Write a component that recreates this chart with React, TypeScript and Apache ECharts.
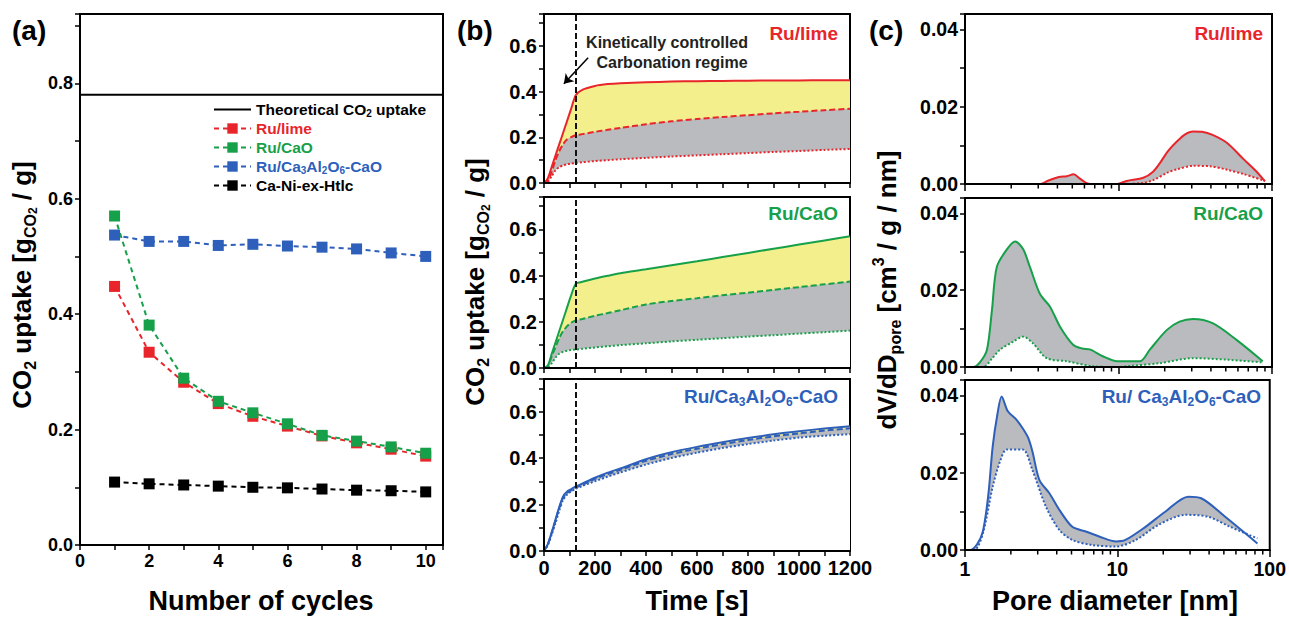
import React, { useEffect, useRef } from "react";
import * as echarts from "echarts";

// ---------------- data ----------------
// (a) cycling
const cycles = [1, 2, 3, 4, 5, 6, 7, 8, 9, 10];
const ruLimeUptake = [0.448, 0.334, 0.282, 0.245, 0.223, 0.206, 0.189, 0.177, 0.166, 0.154];
const ruCaOUptake = [0.57, 0.381, 0.289, 0.249, 0.229, 0.21, 0.19, 0.18, 0.17, 0.159];
const ruCaAlUptake = [0.537, 0.526, 0.526, 0.519, 0.521, 0.518, 0.516, 0.513, 0.506, 0.5];
const caNiUptake = [0.109, 0.106, 0.104, 0.102, 0.1, 0.099, 0.097, 0.095, 0.094, 0.092];
const theoreticalUptake = 0.78;

// (b) uptake vs time
const timeS = [0, 15, 30, 45, 60, 75, 90, 105, 125, 150, 200, 250, 300, 400, 500, 600, 700, 800, 900, 1000, 1100, 1200];
const limeSolid = [0, 0.02, 0.07, 0.12, 0.17, 0.22, 0.27, 0.32, 0.385, 0.408, 0.425, 0.433, 0.437, 0.441, 0.444, 0.446, 0.447, 0.448, 0.449, 0.449, 0.45, 0.45];
const limeDashed = [0, 0.01, 0.05, 0.1, 0.14, 0.17, 0.19, 0.2, 0.209, 0.214, 0.224, 0.233, 0.241, 0.257, 0.27, 0.28, 0.289, 0.297, 0.305, 0.312, 0.319, 0.325];
const limeDotted = [0, 0.005, 0.03, 0.055, 0.07, 0.077, 0.082, 0.085, 0.088, 0.091, 0.096, 0.1, 0.104, 0.11, 0.116, 0.121, 0.126, 0.131, 0.136, 0.14, 0.145, 0.149];
const caoSolid = [0, 0.01, 0.06, 0.11, 0.16, 0.21, 0.26, 0.31, 0.365, 0.373, 0.387, 0.399, 0.41, 0.427, 0.445, 0.462, 0.48, 0.498, 0.516, 0.534, 0.552, 0.57];
const caoDashed = [0, 0.01, 0.05, 0.09, 0.13, 0.16, 0.18, 0.195, 0.206, 0.212, 0.226, 0.238, 0.25, 0.275, 0.29, 0.302, 0.315, 0.326, 0.338, 0.35, 0.362, 0.374];
const caoDotted = [0, 0.005, 0.02, 0.045, 0.062, 0.07, 0.075, 0.078, 0.08, 0.083, 0.089, 0.094, 0.099, 0.107, 0.115, 0.122, 0.129, 0.136, 0.142, 0.149, 0.155, 0.162];
const alSolid = [0, 0.03, 0.08, 0.135, 0.19, 0.235, 0.255, 0.265, 0.278, 0.29, 0.315, 0.337, 0.355, 0.395, 0.425, 0.448, 0.468, 0.486, 0.502, 0.515, 0.527, 0.537];
const alDashed = [0, 0.028, 0.077, 0.13, 0.185, 0.23, 0.25, 0.26, 0.273, 0.285, 0.31, 0.331, 0.349, 0.388, 0.417, 0.44, 0.46, 0.478, 0.493, 0.506, 0.518, 0.528];
const alDotted = [0, 0.025, 0.07, 0.12, 0.175, 0.22, 0.242, 0.255, 0.268, 0.28, 0.3, 0.32, 0.338, 0.372, 0.4, 0.423, 0.443, 0.46, 0.475, 0.488, 0.496, 0.503];
const kineticLimitS = 125;

// (c) pore size distribution [diameter nm, dV/dD]
const limePoreSolid = [[1, 0], [3.1, 0], [3.5, 0.0009], [4.1, 0.0018], [4.6, 0.002], [5.1, 0.0025], [5.6, 0.0014], [6.2, 0.0002], [6.6, 0], [9.8, 0], [11.3, 0.0008], [14.5, 0.0016], [16.8, 0.0032], [18.6, 0.0054], [21, 0.0085], [24, 0.011], [27, 0.0128], [30.6, 0.0136], [35, 0.0135], [41, 0.0127], [51, 0.0106], [65, 0.0065], [78, 0.0035], [90, 0.0007]];
const limePoreDotted = [[1, 0], [11.3, 0], [14.5, 0.0003], [16.8, 0.001], [21, 0.003], [24, 0.0038], [30.6, 0.0047], [39.5, 0.0046], [51, 0.0037], [65, 0.0026], [90, 0.0008]];
const caoPoreSolid = [[1, 0], [1.13, 0], [1.25, 0.0012], [1.39, 0.0045], [1.5, 0.015], [1.61, 0.026], [1.88, 0.0307], [2.12, 0.0327], [2.39, 0.0307], [2.65, 0.026], [3.08, 0.019], [3.58, 0.0157], [4.16, 0.0105], [5.06, 0.0058], [5.8, 0.0048], [6.5, 0.0046], [7.9, 0.0028], [9.8, 0.0015], [13.8, 0.0015], [16, 0.0045], [20.6, 0.0096], [25, 0.0118], [30.6, 0.0125], [41, 0.0114], [59, 0.007], [87, 0.0015]];
const caoPoreDotted = [[1, 0], [1.31, 0], [1.5, 0.0022], [1.69, 0.0045], [2.06, 0.0066], [2.39, 0.0079], [2.77, 0.0062], [3.4, 0.0023], [4.6, 0.0015], [6.8, 0.0002], [9.8, 0], [12, 0.0003], [18.6, 0.001], [30.6, 0.0023], [51, 0.0019], [87, 0.0012]];
const alPoreSolid = [[1, 0], [1.08, 0], [1.2, 0.0015], [1.31, 0.0048], [1.42, 0.014], [1.52, 0.0268], [1.63, 0.035], [1.74, 0.0397], [1.91, 0.0359], [2.18, 0.0337], [2.39, 0.0315], [2.6, 0.029], [2.77, 0.0255], [3.08, 0.0181], [3.58, 0.0147], [4.16, 0.0104], [5.06, 0.006], [6.2, 0.0048], [7.6, 0.0035], [9.8, 0.0022], [11.3, 0.0026], [15.3, 0.006], [20.6, 0.0099], [29.2, 0.0138], [35.5, 0.0134], [51, 0.0086], [83, 0.0017]];
const alPoreDotted = [[1, 0], [1.15, 0], [1.31, 0.0043], [1.52, 0.0164], [1.7, 0.023], [1.88, 0.026], [2.39, 0.026], [2.77, 0.0207], [3.4, 0.0112], [4.16, 0.0052], [5.06, 0.0026], [6.8, 0.0013], [9.8, 0.0009], [13.2, 0.0026], [18.6, 0.0065], [28, 0.0091], [39.5, 0.0086], [55, 0.006], [83, 0.003]];
const poreMinorTicks = [2, 3, 4, 5, 6, 7, 8, 9, 20, 30, 40, 50, 60, 70, 80, 90];

// ---------------- styles ----------------
const F = "'Liberation Sans', Arial, Helvetica, sans-serif";
const RED = "#e8252b";
const GREEN = "#17a04a";
const BLUE = "#2d5fbb";
const YELLOW = "#f3ef8c";
const GRAY = "#b9bbbe";

const axisLine = { show: true, onZero: false, lineStyle: { color: "#000", width: 2 } };
const axisTick = { show: true, inside: false, length: 5, lineStyle: { color: "#000", width: 1.5 } };

function labelFmt(interval: number, every: number, dec: number) {
  return (v: number) => {
    const k = Math.round(v / interval);
    if (Math.abs(v - k * interval) > interval * 1e-3) return "";
    if (k % every !== 0) return "";
    return (k * interval).toFixed(dec);
  };
}

function valAxis(gridIndex: number, min: number, max: number, interval: number, every: number, dec: number, showLabel: boolean, fs: number) {
  return {
    type: "value",
    gridIndex,
    min,
    max,
    interval,
    z: 5,
    axisLine,
    axisTick,
    splitLine: { show: false },
    axisLabel: {
      show: showLabel,
      color: "#000",
      fontSize: fs,
      fontWeight: "bold",
      fontFamily: F,
      margin: 7,
      formatter: labelFmt(interval, every, dec),
    },
  };
}

function logAxis(gridIndex: number, showLabel: boolean) {
  return {
    type: "log",
    logBase: 10,
    gridIndex,
    min: 1,
    max: 100,
    z: 5,
    axisLine,
    axisTick: { ...axisTick, length: 7 },
    splitLine: { show: false },
    axisLabel: {
      show: showLabel,
      color: "#000",
      fontSize: 19.5,
      fontWeight: "bold",
      fontFamily: F,
      margin: 9,
      formatter: (v: number) => String(Math.round(v)),
    },
  };
}

function richSet(fs: number, fill: string) {
  const s = Math.round(fs * 0.62);
  const ss = Math.round(fs * 0.45);
  const base = { fill, fontWeight: "bold", fontFamily: F };
  return {
    s: { ...base, fontSize: s, lineHeight: s, verticalAlign: "bottom" },
    ss: { ...base, fontSize: ss, lineHeight: ss, verticalAlign: "bottom" },
    u: { ...base, fontSize: s, lineHeight: s, verticalAlign: "top" },
  };
}

function gtext(x: number, y: number, text: string, fs: number, fill: string, align = "left", rotation = 0) {
  return {
    type: "text",
    x,
    y,
    rotation,
    silent: true,
    z: 20,
    style: {
      text,
      fill,
      fontSize: fs,
      fontWeight: "bold",
      fontFamily: F,
      align,
      verticalAlign: "middle",
      lineHeight: Math.round(fs * 1.25),
      rich: richSet(fs, fill),
    },
  };
}

function timeSeries(idx: number, solid: number[], dashed: number[], dotted: number[], color: string, extra: any = {}) {
  const mk = (arr: number[]) => timeS.map((t, i) => [t, arr[i]]);
  const common = { type: "line", xAxisIndex: idx, yAxisIndex: idx, symbol: "none", smooth: 0.25, silent: true };
  return [
    { ...common, data: mk(solid), lineStyle: { color, width: 2 }, areaStyle: { color: YELLOW, opacity: 1 }, ...extra },
    { ...common, data: mk(dashed), lineStyle: { color, width: 2, type: [6, 3] }, areaStyle: { color: GRAY, opacity: 1 } },
    {
      ...common,
      data: mk(dotted),
      lineStyle: { color, width: 2, type: [2, 2] },
      areaStyle: { color: "#fff", opacity: 1 },
      markLine: {
        silent: true,
        symbol: ["none", "none"],
        label: { show: false },
        lineStyle: { color: "#111", type: [6, 3], width: 2 },
        data: [{ xAxis: kineticLimitS }],
      },
    },
  ];
}

function poreSeries(idx: number, solid: number[][], dotted: number[][], color: string) {
  const common = { type: "line", xAxisIndex: idx, yAxisIndex: idx, symbol: "none", smooth: 0.3, silent: true };
  return [
    { ...common, data: solid, lineStyle: { color, width: 2 }, areaStyle: { color: GRAY, opacity: 1 } },
    { ...common, data: dotted, lineStyle: { color, width: 2, type: [2, 2] }, areaStyle: { color: "#fff", opacity: 1 } },
    {
      type: "custom",
      xAxisIndex: idx,
      yAxisIndex: idx,
      silent: true,
      z: 6,
      data: poreMinorTicks.map((v) => [v, 0]),
      encode: { x: 0, y: 1 },
      renderItem: (_p: any, api: any) => {
        const pt = api.coord([api.value(0), 0]);
        return {
          type: "line",
          shape: { x1: pt[0], y1: pt[1], x2: pt[0], y2: pt[1] + 4.5 },
          style: { stroke: "#000", lineWidth: 1.5 },
        };
      },
    },
  ];
}

function buildOption() {
  const gridBase = { show: true, borderColor: "#000", borderWidth: 2, backgroundColor: "transparent" };
  const grids = [
    { ...gridBase, left: 80, top: 14, width: 363, height: 531 },
    { ...gridBase, left: 544, top: 14, width: 306, height: 169 },
    { ...gridBase, left: 544, top: 197, width: 306, height: 171 },
    { ...gridBase, left: 544, top: 379, width: 306, height: 172 },
    { ...gridBase, left: 965, top: 14, width: 307, height: 170 },
    { ...gridBase, left: 965, top: 198, width: 307, height: 169 },
    { ...gridBase, left: 965, top: 380, width: 307, height: 170 },
  ];

  const xAxis = [
    valAxis(0, 0, 10.5, 1, 2, 0, true, 18),
    valAxis(1, 0, 1200, 100, 2, 0, false, 20),
    valAxis(2, 0, 1200, 100, 2, 0, false, 20),
    valAxis(3, 0, 1200, 100, 2, 0, true, 20),
    logAxis(4, false),
    logAxis(5, false),
    logAxis(6, true),
  ];
  const yAxis = [
    valAxis(0, 0, 0.92, 0.1, 2, 1, true, 18),
    valAxis(1, 0, 0.74, 0.1, 2, 1, true, 20),
    valAxis(2, 0, 0.74, 0.1, 2, 1, true, 20),
    valAxis(3, 0, 0.74, 0.1, 2, 1, true, 20),
    valAxis(4, 0, 0.044, 0.01, 2, 2, true, 19.5),
    valAxis(5, 0, 0.044, 0.01, 2, 2, true, 19.5),
    valAxis(6, 0, 0.044, 0.01, 2, 2, true, 19.5),
  ];

  const cyc = (arr: number[]) => cycles.map((c, i) => [c, arr[i]]);
  const cycSeries = (name: string, arr: number[], color: string) => ({
    name,
    type: "line",
    xAxisIndex: 0,
    yAxisIndex: 0,
    data: cyc(arr),
    symbol: "rect",
    symbolSize: 11,
    silent: true,
    lineStyle: { color, width: 2, type: [5, 4] },
    itemStyle: { color },
  });

  const series: any[] = [
    {
      name: "Theoretical CO2 uptake",
      type: "line",
      xAxisIndex: 0,
      yAxisIndex: 0,
      data: [[0, theoreticalUptake], [10.5, theoreticalUptake]],
      symbol: "none",
      silent: true,
      lineStyle: { color: "#000", width: 2 },
      itemStyle: { color: "#000" },
    },
    cycSeries("Ru/lime", ruLimeUptake, RED),
    cycSeries("Ru/CaO", ruCaOUptake, GREEN),
    cycSeries("Ru/Ca3Al2O6-CaO", ruCaAlUptake, BLUE),
    cycSeries("Ca-Ni-ex-Htlc", caNiUptake, "#000"),
    ...timeSeries(1, limeSolid, limeDashed, limeDotted, RED, {
      markLine: {
        silent: true,
        symbol: ["none", "arrow"],
        symbolSize: 9,
        label: { show: false },
        lineStyle: { color: "#000", type: "solid", width: 1.5 },
        data: [[{ coord: [173, 0.548] }, { coord: [78, 0.435] }]],
      },
    }),
    ...timeSeries(2, caoSolid, caoDashed, caoDotted, GREEN),
    ...timeSeries(3, alSolid, alDashed, alDotted, BLUE),
    ...poreSeries(4, limePoreSolid, limePoreDotted, RED),
    ...poreSeries(5, caoPoreSolid, caoPoreDotted, GREEN),
    ...poreSeries(6, alPoreSolid, alPoreDotted, BLUE),
  ];

  const legendRichBase = { fontWeight: "bold", fontFamily: F, fontSize: 10, lineHeight: 10, verticalAlign: "bottom" };
  const legend = {
    show: true,
    orient: "vertical",
    left: 213,
    top: 101,
    padding: 0,
    itemWidth: 37,
    itemHeight: 13,
    itemGap: 2,
    selectedMode: false,
    textStyle: {
      fontSize: 15.5,
      fontWeight: "bold",
      fontFamily: F,
      color: "#000",
      lineHeight: 17,
      rich: {
        k: { ...legendRichBase, color: "#000" },
        b: { ...legendRichBase, color: BLUE },
      },
    },
    formatter: (name: string) => {
      if (name === "Theoretical CO2 uptake") return "Theoretical CO{k|2} uptake";
      if (name === "Ru/Ca3Al2O6-CaO") return "Ru/Ca{b|3}Al{b|2}O{b|6}-CaO";
      return name;
    },
    data: [
      { name: "Theoretical CO2 uptake", textStyle: { color: "#000" }, itemStyle: { opacity: 0 } },
      { name: "Ru/lime", textStyle: { color: RED } },
      { name: "Ru/CaO", textStyle: { color: GREEN } },
      { name: "Ru/Ca3Al2O6-CaO", textStyle: { color: BLUE } },
      { name: "Ca-Ni-ex-Htlc", textStyle: { color: "#000" } },
    ],
  };

  const graphic = [
    gtext(12, 30, "(a)", 28, "#000"),
    gtext(457, 30, "(b)", 28, "#000"),
    gtext(869, 30, "(c)", 28, "#000"),
    gtext(838, 33, "Ru/lime", 19, RED, "right"),
    gtext(838, 213, "Ru/CaO", 19, GREEN, "right"),
    gtext(838, 396, "Ru/Ca{s|3}Al{s|2}O{s|6}-CaO", 19, BLUE, "right"),
    gtext(1263, 33, "Ru/lime", 19, RED, "right"),
    gtext(1263, 213, "Ru/CaO", 19, GREEN, "right"),
    gtext(1261, 396, "Ru/ Ca{s|3}Al{s|2}O{s|6}-CaO", 19, BLUE, "right"),
    gtext(667, 42, "Kinetically controlled", 16, "#222", "center"),
    gtext(672, 62, "Carbonation regime", 16, "#222", "center"),
    gtext(261, 601, "Number of cycles", 27, "#000", "center"),
    gtext(697, 601, "Time [s]", 27, "#000", "center"),
    gtext(1115, 601, "Pore diameter [nm]", 27, "#000", "center"),
    gtext(22, 285, "CO{s|2} uptake [g{s|CO}{ss|2} / g]", 26, "#000", "center", Math.PI / 2),
    gtext(475, 282, "CO{s|2} uptake [g{s|CO}{ss|2} / g]", 26, "#000", "center", Math.PI / 2),
    gtext(887, 290, "dV/dD{s|pore} [cm{u|3} / g / nm]", 26, "#000", "center", Math.PI / 2),
  ];

  return {
    animation: false,
    backgroundColor: "#fff",
    grid: grids,
    xAxis,
    yAxis,
    series,
    legend,
    graphic,
  };
}

export default function App() {
  const ref = useRef<HTMLDivElement>(null);
  useEffect(() => {
    if (!ref.current) return;
    const chart = echarts.init(ref.current, null, { renderer: "svg" });
    chart.setOption(buildOption() as any);
    return () => chart.dispose();
  }, []);
  return (
    <div
      ref={ref}
      style={{ position: "fixed", left: 0, top: 0, width: 1289, height: 619, background: "#fff" }}
    />
  );
}
